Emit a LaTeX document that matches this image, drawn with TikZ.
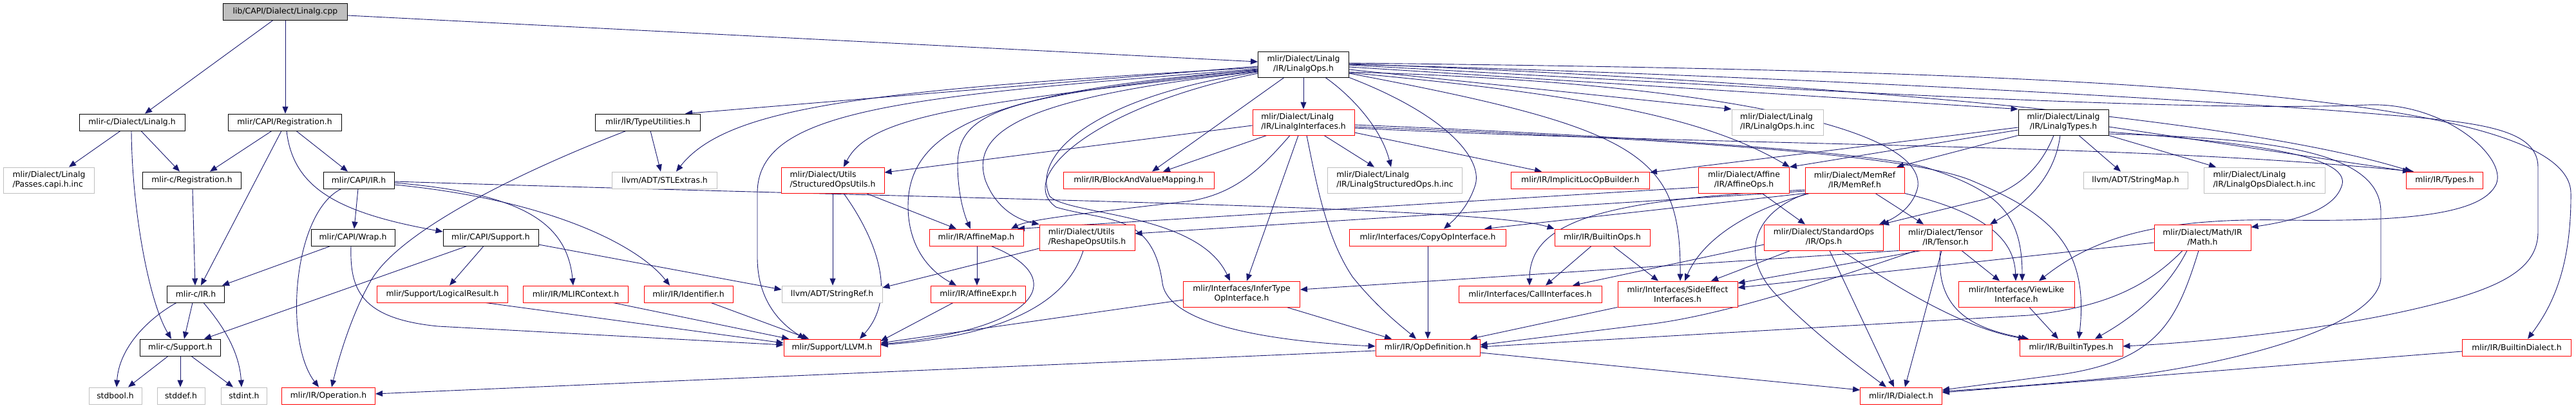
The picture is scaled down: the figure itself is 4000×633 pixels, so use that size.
\documentclass[tikz,border=0pt]{standalone}
\usepackage{fontspec}
\setmainfont{DejaVu Sans}
\usetikzlibrary{arrows.meta}
\definecolor{edgec}{RGB}{25,25,112}
\definecolor{grayb}{RGB}{191,191,191}
\pgfdeclarelayer{bg}
\pgfsetlayers{bg,main}
\begin{document}
\begin{tikzpicture}[x=1pt,y=-1pt,
  box/.style={draw, rectangle, fill=white, inner sep=0pt, align=center, font=\fontsize{12.4}{15}\selectfont, line width=0.9pt, text=black},
  bk/.style={box, draw=black},
  rd/.style={box, draw=red},
  gy/.style={box, draw=grayb},
  topn/.style={box, draw=black, fill=grayb},
  lft/.style={align=left},
  e/.style={draw=edgec, line width=0.9pt, -{Triangle[length=11pt,width=9pt]}},
]
% row 0-2
\node[topn, minimum width=193pt, minimum height=26pt] (cpp) at (443,18) {lib/CAPI/Dialect/Linalg.cpp};
\node[bk, minimum width=141pt, minimum height=40pt] (linops) at (2024,100) {mlir/Dialect/Linalg\\/IR/LinalgOps.h};
\node[bk, minimum width=164pt, minimum height=26pt] (mcdl) at (205,190) {mlir-c/Dialect/Linalg.h};
\node[bk, minimum width=176pt, minimum height=26pt] (capireg) at (442,190) {mlir/CAPI/Registration.h};
\node[bk, minimum width=163pt, minimum height=26pt] (typeutil) at (1006,190) {mlir/IR/TypeUtilities.h};
\node[rd, lft, minimum width=158pt, minimum height=40pt] (linint) at (2024,190) {mlir/Dialect/Linalg\\/IR/LinalgInterfaces.h};
\node[gy, lft, minimum width=142pt, minimum height=40pt] (opsinc) at (2760,190) {mlir/Dialect/Linalg\\/IR/LinalgOps.h.inc};
\node[bk, minimum width=140pt, minimum height=40pt] (lintypes) at (3204,190) {mlir/Dialect/Linalg\\/IR/LinalgTypes.h};
% row 3
\node[gy, lft, minimum width=141pt, minimum height=40pt] (passes) at (76,280) {mlir/Dialect/Linalg\\/Passes.capi.h.inc};
\node[bk, minimum width=153pt, minimum height=26pt] (mcreg) at (298,280) {mlir-c/Registration.h};
\node[bk, minimum width=110pt, minimum height=26pt] (capiir) at (557,280) {mlir/CAPI/IR.h};
\node[gy, minimum width=163pt, minimum height=26pt] (stlextras) at (1032,280) {llvm/ADT/STLExtras.h};
\node[rd, lft, minimum width=160pt, minimum height=40pt] (structops) at (1293,280) {mlir/Dialect/Utils\\/StructuredOpsUtils.h};
\node[rd, minimum width=234pt, minimum height=26pt] (bavm) at (1768,280) {mlir/IR/BlockAndValueMapping.h};
\node[gy, lft, minimum width=209pt, minimum height=40pt] (lsops) at (2166,280) {mlir/Dialect/Linalg\\/IR/LinalgStructuredOps.h.inc};
\node[rd, minimum width=215pt, minimum height=26pt] (implicit) at (2454,280) {mlir/IR/ImplicitLocOpBuilder.h};
\node[rd, minimum width=141pt, minimum height=40pt] (affineops) at (2708,280) {mlir/Dialect/Affine\\/IR/AffineOps.h};
\node[rd, minimum width=154pt, minimum height=40pt] (memref) at (2880,280) {mlir/Dialect/MemRef\\/IR/MemRef.h};
\node[gy, minimum width=162pt, minimum height=26pt] (stringmap) at (3316,280) {llvm/ADT/StringMap.h};
\node[gy, lft, minimum width=188pt, minimum height=40pt] (lodinc) at (3516,280) {mlir/Dialect/Linalg\\/IR/LinalgOpsDialect.h.inc};
\node[rd, minimum width=119pt, minimum height=26pt] (types) at (3796,280) {mlir/IR/Types.h};
% row 4
\node[bk, minimum width=130pt, minimum height=26pt] (wrap) at (548,369) {mlir/CAPI/Wrap.h};
\node[bk, minimum width=148pt, minimum height=26pt] (capisup) at (762,369) {mlir/CAPI/Support.h};
\node[rd, minimum width=146pt, minimum height=26pt] (affmap) at (1516,369) {mlir/IR/AffineMap.h};
\node[rd, lft, minimum width=148pt, minimum height=40pt] (reshape) at (1688,369) {mlir/Dialect/Utils\\/ReshapeOpsUtils.h};
\node[rd, minimum width=243pt, minimum height=26pt] (copyop) at (2217,369) {mlir/Interfaces/CopyOpInterface.h};
\node[rd, minimum width=148pt, minimum height=26pt] (builtinops) at (2488,369) {mlir/IR/BuiltinOps.h};
\node[rd, minimum width=185pt, minimum height=40pt] (stdops) at (2832,369) {mlir/Dialect/StandardOps\\/IR/Ops.h};
\node[rd, minimum width=144pt, minimum height=40pt] (tensor) at (3021,369) {mlir/Dialect/Tensor\\/IR/Tensor.h};
\node[rd, minimum width=150pt, minimum height=40pt] (math) at (3420,369) {mlir/Dialect/Math/IR\\/Math.h};
% row 5
\node[bk, minimum width=89pt, minimum height=26pt] (mcir) at (304,457) {mlir-c/IR.h};
\node[rd, minimum width=203pt, minimum height=26pt] (logres) at (687,457) {mlir/Support/LogicalResult.h};
\node[rd, minimum width=163pt, minimum height=26pt] (mlirctx) at (894,457) {mlir/IR/MLIRContext.h};
\node[rd, minimum width=138pt, minimum height=26pt] (ident) at (1069,457) {mlir/IR/Identifier.h};
\node[gy, minimum width=156pt, minimum height=26pt] (stringref) at (1292,457) {llvm/ADT/StringRef.h};
\node[rd, minimum width=147pt, minimum height=26pt] (affexpr) at (1519,457) {mlir/IR/AffineExpr.h};
\node[rd, minimum width=181pt, minimum height=40pt] (infer) at (1928,457) {mlir/Interfaces/InferType\\OpInterface.h};
\node[rd, minimum width=222pt, minimum height=26pt] (callif) at (2376,457) {mlir/Interfaces/CallInterfaces.h};
\node[rd, minimum width=186pt, minimum height=40pt] (sideeff) at (2605,457) {mlir/Interfaces/SideEffect\\Interfaces.h};
\node[rd, minimum width=180pt, minimum height=40pt] (viewlike) at (3131,457) {mlir/Interfaces/ViewLike\\Interface.h};
% row 6
\node[bk, minimum width=125pt, minimum height=26pt] (mcsup) at (280,540) {mlir-c/Support.h};
\node[rd, minimum width=150pt, minimum height=26pt] (llvm) at (1292,540) {mlir/Support/LLVM.h};
\node[rd, minimum width=162pt, minimum height=26pt] (opdef) at (2217,540) {mlir/IR/OpDefinition.h};
\node[rd, minimum width=160pt, minimum height=26pt] (btypes) at (3216,540) {mlir/IR/BuiltinTypes.h};
\node[rd, minimum width=169pt, minimum height=26pt] (bdialect) at (3908,540) {mlir/IR/BuiltinDialect.h};
% row 7
\node[gy, minimum width=82pt, minimum height=26pt] (stdbool) at (179,615) {stdbool.h};
\node[gy, minimum width=74pt, minimum height=26pt] (stddef) at (281,615) {stddef.h};
\node[gy, minimum width=71pt, minimum height=26pt] (stdint) at (379,615) {stdint.h};
\node[rd, minimum width=145pt, minimum height=26pt] (operation) at (510,615) {mlir/IR/Operation.h};
\node[rd, minimum width=127pt, minimum height=26pt] (dialect) at (2952,615) {mlir/IR/Dialect.h};

\begin{pgfonlayer}{bg}
\fill[white] (0,0) rectangle (4000,633);
% ---- edges: C API side
\draw[e] (cpp.south -| 424,0) -- (mcdl.north -| 225,0);
\draw[e] (cpp.south -| 443,0) -- (capireg.north -| 443,0);
\draw[e] (cpp.east |- 0,24) -- (linops.west |- 0,96);
\draw[e] (mcdl.south -| 187,0) -- (passes.north -| 107,0);
\draw[e] (mcdl.south -| 219,0) -- (mcreg.north -| 279,0);
\draw[e] (mcdl.south -| 204,0) .. controls (205,330) and (232,470) .. (mcsup.north -| 266,0);
\draw[e] (capireg.south -| 422,0) -- (mcreg.north -| 326,0);
\draw[e] (capireg.south -| 437,0) -- (mcir.north -| 312,0);
\draw[e] (capireg.south -| 460,0) -- (capiir.north -| 540,0);
\draw[e] (capireg.south -| 445,0) .. controls (455,290) and (520,330) .. (capisup.west |- 0,360);
\draw[e] (mcreg.south -| 299,0) -- (mcir.north -| 303,0);
\draw[e] (capiir.south -| 556,0) -- (wrap.north -| 550,0);
\draw[e] (capiir.south -| 530,0) .. controls (455,330) and (440,530) .. (operation.north -| 495,0);
\draw[e] (capiir.east |- 0,284) .. controls (800,300) and (880,340) .. (mlirctx.north -| 890,0);
\draw[e] (capiir.east |- 0,287) .. controls (850,310) and (990,380) .. (ident.north -| 1040,0);
\draw[e] (capiir.east |- 0,282) .. controls (1500,310) and (2300,320) .. (builtinops.north west);
\draw[e] (wrap.south -| 513,0) -- (mcir.north -| 345,0);
\draw[e] (wrap.south -| 545,0) .. controls (543,450) and (560,495) .. (680,507) -- (llvm.west |- 0,536);
\draw[e] (capisup.south -| 725,0) -- (mcsup.north -| 317,0);
\draw[e] (capisup.south -| 751,0) -- (logres.north -| 698,0);
\draw[e] (capisup.east |- 0,380) -- (stringref.west |- 0,450);
\draw[e] (mcir.south -| 274,0) .. controls (230,495) and (185,540) .. (stdbool.north -| 181,0);
\draw[e] (mcir.south -| 299,0) -- (mcsup.north -| 286,0);
\draw[e] (mcir.south -| 316,0) .. controls (350,510) and (372,550) .. (stdint.north -| 375,0);
\draw[e] (mcsup.south -| 261,0) -- (stdbool.north -| 199,0);
\draw[e] (mcsup.south -| 280,0) -- (stddef.north -| 280,0);
\draw[e] (mcsup.south -| 297,0) -- (stdint.north -| 362,0);
\draw[e] (logres.south -| 754,0) -- (llvm.west |- 0,533);
\draw[e] (mlirctx.south -| 952,0) -- (llvm.north -| 1225,0);
\draw[e] (ident.south -| 1104,0) -- (llvm.north -| 1256,0);
\draw[e] (typeutil.south -| 1010,0) -- (stlextras.north -| 1026,0);
\draw[e] (typeutil.south -| 972,0) .. controls (800,270) and (620,360) .. (576,436) .. controls (545,490) and (525,560) .. (operation.north -| 515,0);
\draw[e] (opdef.west |- 0,545) -- (operation.east |- 0,612);

% ---- LinalgOps.h
\draw[e] (linops.west |- 0,103) -- (typeutil.north -| 1064,0);
\draw[e] (linops.west |- 0,105) .. controls (1350,140) and (1130,165) .. (stlextras.north -| 1050,0);
\draw[e] (linops.west |- 0,107) .. controls (1400,150) and (1176,170) .. (1176,300) -- (1176,400) .. controls (1176,470) and (1215,505) .. (llvm.north -| 1250,0);
\draw[e] (linops.west |- 0,110) .. controls (1500,160) and (1350,180) .. (structops.north -| 1310,0);
\draw[e] (linops.west |- 0,108) .. controls (1560,150) and (1485,170) .. (1487,260) .. controls (1488,310) and (1500,340) .. (affmap.north -| 1507,0);
\draw[e] (linops.west |- 0,109) .. controls (1540,140) and (1410,200) .. (1410,320) .. controls (1410,390) and (1450,425) .. (affexpr.north -| 1485,0);
\draw[e] (linops.west |- 0,111) .. controls (1600,150) and (1505,200) .. (1530,280) .. controls (1545,320) and (1575,340) .. (reshape.north west);
\draw[e] (linops.west |- 0,112) .. controls (1700,150) and (1600,240) .. (1630,305) .. controls (1660,335) and (1860,330) .. (infer.north -| 1910,0);
\draw[e] (linops.west |- 0,114) .. controls (1700,165) and (1575,275) .. (1640,322) .. controls (1720,345) and (1790,330) .. (1805,440) .. controls (1815,510) and (2000,532) .. (opdef.west |- 0,538);
\draw[e] (linops.south -| 1994,0) -- (bavm.north -| 1789,0);
\draw[e] (linops) -- (linint);
\draw[e] (linops.south -| 2058,0) .. controls (2100,150) and (2145,200) .. (lsops.north -| 2160,0);
\draw[e] (linops.south east) .. controls (2250,180) and (2305,250) .. (2290,290) .. controls (2280,320) and (2260,340) .. (copyop.north -| 2242,0);
\draw[e] (linops.east |- 0,114) .. controls (2550,200) and (2610,240) .. (sideeff.north -| 2609,0);
\draw[e] (linops.east |- 0,108) -- (opsinc.north west);
\draw[e] (linops.east |- 0,104) -- (lintypes.north west);
\draw[e] (linops.east |- 0,112) .. controls (2600,125) and (2990,190) .. (2978,290) .. controls (2972,320) and (2945,338) .. (stdops.north -| 2918,0);
\draw[e] (linops.east |- 0,101) .. controls (2800,140) and (3400,175) .. (3676,163) .. controls (3800,158) and (3900,250) .. (3874,290) .. controls (3850,330) and (3750,345) .. (3550,342) .. controls (3350,338) and (3250,370) .. (viewlike.north -| 3166,0);
\draw[e] (linops.east |- 0,100) .. controls (2800,118) and (3500,160) .. (3700,178) .. controls (3850,190) and (3941,200) .. (3941,260) -- (3941,360) .. controls (3941,420) and (3880,450) .. (3750,480) .. controls (3600,515) and (3400,533) .. (btypes.east |- 0,538);
\draw[e] (linops.east |- 0,99) .. controls (2900,130) and (3500,190) .. (types.north -| 3745,0);
\draw[e] (linops.east |- 0,98) .. controls (3200,110) and (3990,140) .. (3992,300) .. controls (3993,420) and (3960,480) .. (bdialect.north -| 3925,0);
\draw[e] (linops.east |- 0,113) .. controls (2500,150) and (2660,190) .. (affineops.north east);

% ---- LinalgInterfaces.h
\draw[e] (linint.west |- 0,195) -- (structops.east |- 0,268);
\draw[e] (linint.south -| 1967,0) -- (bavm.north -| 1806,0);
\draw[e] (linint.south -| 2003,0) .. controls (1960,260) and (1920,300) .. (1850,312) .. controls (1700,330) and (1600,340) .. (affmap.north -| 1570,0);
\draw[e] (linint.south -| 2016,0) -- (infer.north -| 1936,0);
\draw[e] (linint.south -| 2056,0) -- (lsops.north -| 2134,0);
\draw[e] (linint.east |- 0,206) -- (implicit.north -| 2394,0);
\draw[e] (linint.south -| 2029,0) .. controls (2045,290) and (2060,370) .. (2100,430) .. controls (2140,480) and (2180,510) .. (opdef.north -| 2199,0);
\draw[e] (linint.east |- 0,194) .. controls (2500,210) and (2900,235) .. (2990,260) .. controls (3100,295) and (3140,330) .. (viewlike.north -| 3140,0);
\draw[e] (linint.east |- 0,197) .. controls (2500,212) and (2950,235) .. (3060,280) .. controls (3180,330) and (3245,380) .. (btypes.north -| 3228,0);
\draw[e] (linint.east |- 0,199) .. controls (2700,228) and (3300,222) .. (types.north -| 3748,0);

% ---- LinalgTypes.h
\draw[e] (lintypes.west |- 0,202) -- (affineops.north east);
\draw[e] (lintypes.south west) -- (memref.north -| 2945,0);
\draw[e] (lintypes.west |- 0,198) -- (implicit.east |- 0,268);
\draw[e] (lintypes.south -| 3189,0) .. controls (3165,270) and (3125,295) .. (3080,310) -- (stdops.north -| 2922,0);
\draw[e] (lintypes.south -| 3199,0) .. controls (3190,280) and (3140,320) .. (tensor.north -| 3090,0);
\draw[e] (lintypes.south -| 3228,0) -- (stringmap.north -| 3293,0);
\draw[e] (lintypes.south east) -- (lodinc.north -| 3441,0);
\draw[e] (lintypes.east |- 0,197) -- (types.north -| 3742,0);
\draw[e] (lintypes.east |- 0,205) .. controls (3550,225) and (3655,250) .. (3635,292) .. controls (3620,330) and (3550,345) .. (math.east |- 0,353);
\draw[e] (lintypes.east |- 0,208) .. controls (3550,215) and (3697,240) .. (3697,330) -- (3697,430) .. controls (3697,500) and (3500,560) .. (3300,585) .. controls (3150,600) and (3050,606) .. (dialect.east |- 0,608);

% ---- MemRef.h / AffineOps.h
\draw[e] (memref.south -| 2912,0) -- (tensor.north -| 2987,0);
\draw[e] (memref.south east) .. controls (3080,330) and (3128,370) .. (viewlike.north -| 3130,0);
\draw[e] (memref.south -| 2806,0) .. controls (2720,330) and (2700,400) .. (2760,460) .. controls (2820,520) and (2880,565) .. (dialect.north -| 2929,0);
\draw[e] (memref.south -| 2810,0) .. controls (2700,330) and (2640,380) .. (sideeff.north -| 2616,0);
\draw[e] (memref.west |- 0,297) -- (reshape.east |- 0,363);
\draw[e] (memref.south west) -- (copyop.north -| 2305,0);
\draw[e] (memref.west |- 0,295) .. controls (2500,310) and (2375,340) .. (callif.north -| 2375,0);
\draw[e] (affineops.south -| 2736,0) -- (stdops.north -| 2803,0);
\draw[e] (affineops.west |- 0,291) -- (affmap.north -| 1580,0);

% ---- StandardOps, Tensor, Math
\draw[e] (stdops.west |- 0,380) -- (callif.north -| 2442,0);
\draw[e] (stdops.south -| 2780,0) -- (sideeff.north -| 2657,0);
\draw[e] (stdops.south -| 2841,0) -- (dialect.north -| 2941,0);
\draw[e] (stdops.south -| 2860,0) .. controls (2950,450) and (3050,510) .. (btypes.north -| 3145,0);
\draw[e] (tensor.south -| 3046,0) -- (viewlike.north -| 3105,0);
\draw[e] (tensor.south -| 3015,0) -- (dialect.north -| 2958,0);
\draw[e] (tensor.south -| 3013,0) .. controls (3005,480) and (3060,510) .. (btypes.north -| 3150,0);
\draw[e] (tensor.south -| 2983,0) -- (sideeff.east |- 0,440);
\draw[e] (tensor.south west) -- (infer.east |- 0,450);
\draw[e] (tensor.south -| 2975,0) .. controls (2800,450) and (2650,495) .. (2550,505) -- (opdef.east |- 0,536);
\draw[e] (math.west |- 0,377) -- (sideeff.east |- 0,447);
\draw[e] (math.south -| 3389,0) .. controls (3330,450) and (3260,478) .. (3150,490) -- (opdef.east |- 0,539);
\draw[e] (math.south -| 3396,0) .. controls (3360,460) and (3300,500) .. (btypes.north -| 3253,0);
\draw[e] (math.south -| 3414,0) .. controls (3380,500) and (3350,560) .. (3200,582) -- (dialect.east |- 0,606);

% ---- lower interfaces
\draw[e] (viewlike.south -| 3151,0) -- (btypes.north -| 3196,0);
\draw[e] (infer.west |- 0,466) -- (llvm.east |- 0,533);
\draw[e] (infer.south -| 1998,0) -- (opdef.north -| 2161,0);
\draw[e] (sideeff.south west) -- (opdef.north -| 2283,0);
\draw[e] (copyop) -- (opdef);
\draw[e] (builtinops.south -| 2471,0) -- (callif.north -| 2400,0);
\draw[e] (builtinops.south -| 2505,0) -- (sideeff.north -| 2575,0);
\draw[e] (opdef.east |- 0,548) -- (dialect.west |- 0,606);
\draw[e] (bdialect.west |- 0,546) -- (dialect.east |- 0,610);

% ---- utils / affine
\draw[e] (structops.south -| 1293,0) -- (stringref.north -| 1293,0);
\draw[e] (structops.south -| 1310,0) .. controls (1360,370) and (1395,460) .. (llvm.north -| 1335,0);
\draw[e] (structops.south -| 1345,0) -- (affmap.north -| 1485,0);
\draw[e] (reshape.west |- 0,386) -- (stringref.east |- 0,447);
\draw[e] (reshape.south -| 1682,0) .. controls (1660,460) and (1580,520) .. (llvm.east |- 0,536);
\draw[e] (affmap.south -| 1517,0) -- (affexpr.north -| 1517,0);
\draw[e] (affmap.south -| 1539,0) .. controls (1660,430) and (1620,510) .. (llvm.east |- 0,535);
\draw[e] (affexpr.south -| 1480,0) -- (llvm.east |- 0,530);
\end{pgfonlayer}
\useasboundingbox (0,0) rectangle (4000,633);
\end{tikzpicture}
\end{document}
